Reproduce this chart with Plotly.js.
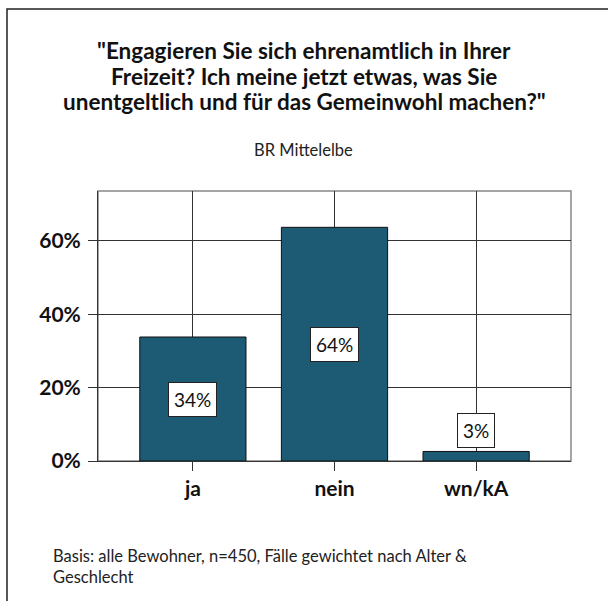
<!DOCTYPE html>
<html>
<head>
<meta charset="utf-8">
<script src="https://cdn.plot.ly/plotly-3.0.1.min.js"></script>
<style>html,body{margin:0;padding:0;background:#fff;}#chart{width:608px;height:601px;}</style>
</head>
<body>
<div id="chart"></div>
<script>
const categories = ["ja", "nein", "wn/kA"];
const values = [33.8, 63.7, 2.6];
const valueLabels = ["34%", "64%", "3%"];
const yTickValues = [0, 20, 40, 60];
const yTickLabels = ["0%", "20%", "40%", "60%"];
const titleLines = [
  '"Engagieren Sie sich ehrenamtlich in Ihrer',
  'Freizeit? Ich meine jetzt etwas, was Sie',
  'unentgeltlich und für das Gemeinwohl machen?"'
];
const subtitleText = "BR Mittelelbe";
const footnoteText = "Basis: alle Bewohner, n=450, Fälle gewichtet nach Alter &<br>Geschlecht";

const FONT = "Lato, 'Open Sans', sans-serif";
const barColor = "#1d5a73";

// geometry of plot area (px)
const W = 608, H = 601;
const L = 98, R = 37, T = 191, B = 140;
const pw = W - L - R, ph = H - T - B;
const px = x => (x - L) / pw;
const py = y => (H - B - y) / ph;

const annotations = values.map((v, i) => {
  const inside = v >= 10;
  return {
    x: categories[i], y: inside ? v / 2 : v,
    xref: "x", yref: "y",
    text: valueLabels[i], showarrow: false,
    yanchor: inside ? "middle" : "bottom",
    yshift: inside ? 0 : 3,
    font: {family: FONT, size: 19, color: "#111"},
    bgcolor: "#fff", bordercolor: "#222", borderwidth: 1, borderpad: 5
  };
});
titleLines.forEach((t, i) => {
  annotations.push({
    x: px(304), y: py(51 + 25 * i), xref: "paper", yref: "paper",
    text: t, showarrow: false, xanchor: "center", yanchor: "middle",
    font: {family: FONT, size: 22.5, weight: "bold", color: "#111"}
  });
});
annotations.push({
  x: px(303), y: py(150), xref: "paper", yref: "paper",
  text: subtitleText, showarrow: false, xanchor: "center", yanchor: "middle",
  font: {family: FONT, size: 16.5, color: "#222"}
});
annotations.push({
  x: px(51), y: py(544), xref: "paper", yref: "paper",
  text: footnoteText, showarrow: false, xanchor: "left", yanchor: "top", align: "left",
  font: {family: FONT, size: 16.5, color: "#222"}
});

const data = [{
  type: "bar", x: categories, y: values,
  width: 0.75,
  marker: {color: barColor, line: {color: "#111", width: 1}},
  hoverinfo: "none"
}];

const layout = {
  width: W, height: H,
  margin: {l: L, r: R, t: T, b: B, pad: 0},
  paper_bgcolor: "#fff", plot_bgcolor: "#fff",
  showlegend: false,
  xaxis: {
    range: [-0.67, 2.67], type: "category",
    showgrid: true, gridcolor: "#333", gridwidth: 1,
    ticks: "outside", ticklen: 9, tickcolor: "#333", tickwidth: 1,
    showline: true, linecolor: "#333", linewidth: 1,
    tickfont: {family: FONT, size: 21, weight: "bold", color: "#111"},
    fixedrange: true
  },
  yaxis: {
    range: [0, 73.6],
    tickvals: yTickValues, ticktext: yTickLabels,
    showgrid: true, gridcolor: "#333", gridwidth: 1, zeroline: false,
    ticks: "outside", ticklen: 9, tickcolor: "#333", tickwidth: 1,
    ticklabelstandoff: 3,
    showline: true, linecolor: "#333", linewidth: 1,
    tickfont: {family: FONT, size: 21, weight: "bold", color: "#111"},
    fixedrange: true
  },
  annotations: annotations,
  shapes: [
    {type: "rect", xref: "paper", yref: "paper", x0: 0, x1: 1, y0: 0, y1: 1,
     line: {color: "#888", width: 1.5}, layer: "below"},
    {type: "path", xref: "paper", yref: "paper",
     path: `M ${px(7)} ${py(H + 5)} L ${px(7)} ${py(9)} L ${px(W + 5)} ${py(9)}`,
     line: {color: "#222", width: 1.5}}
  ]
};

Plotly.newPlot("chart", data, layout, {displayModeBar: false, staticPlot: true});
</script>
</body>
</html>
